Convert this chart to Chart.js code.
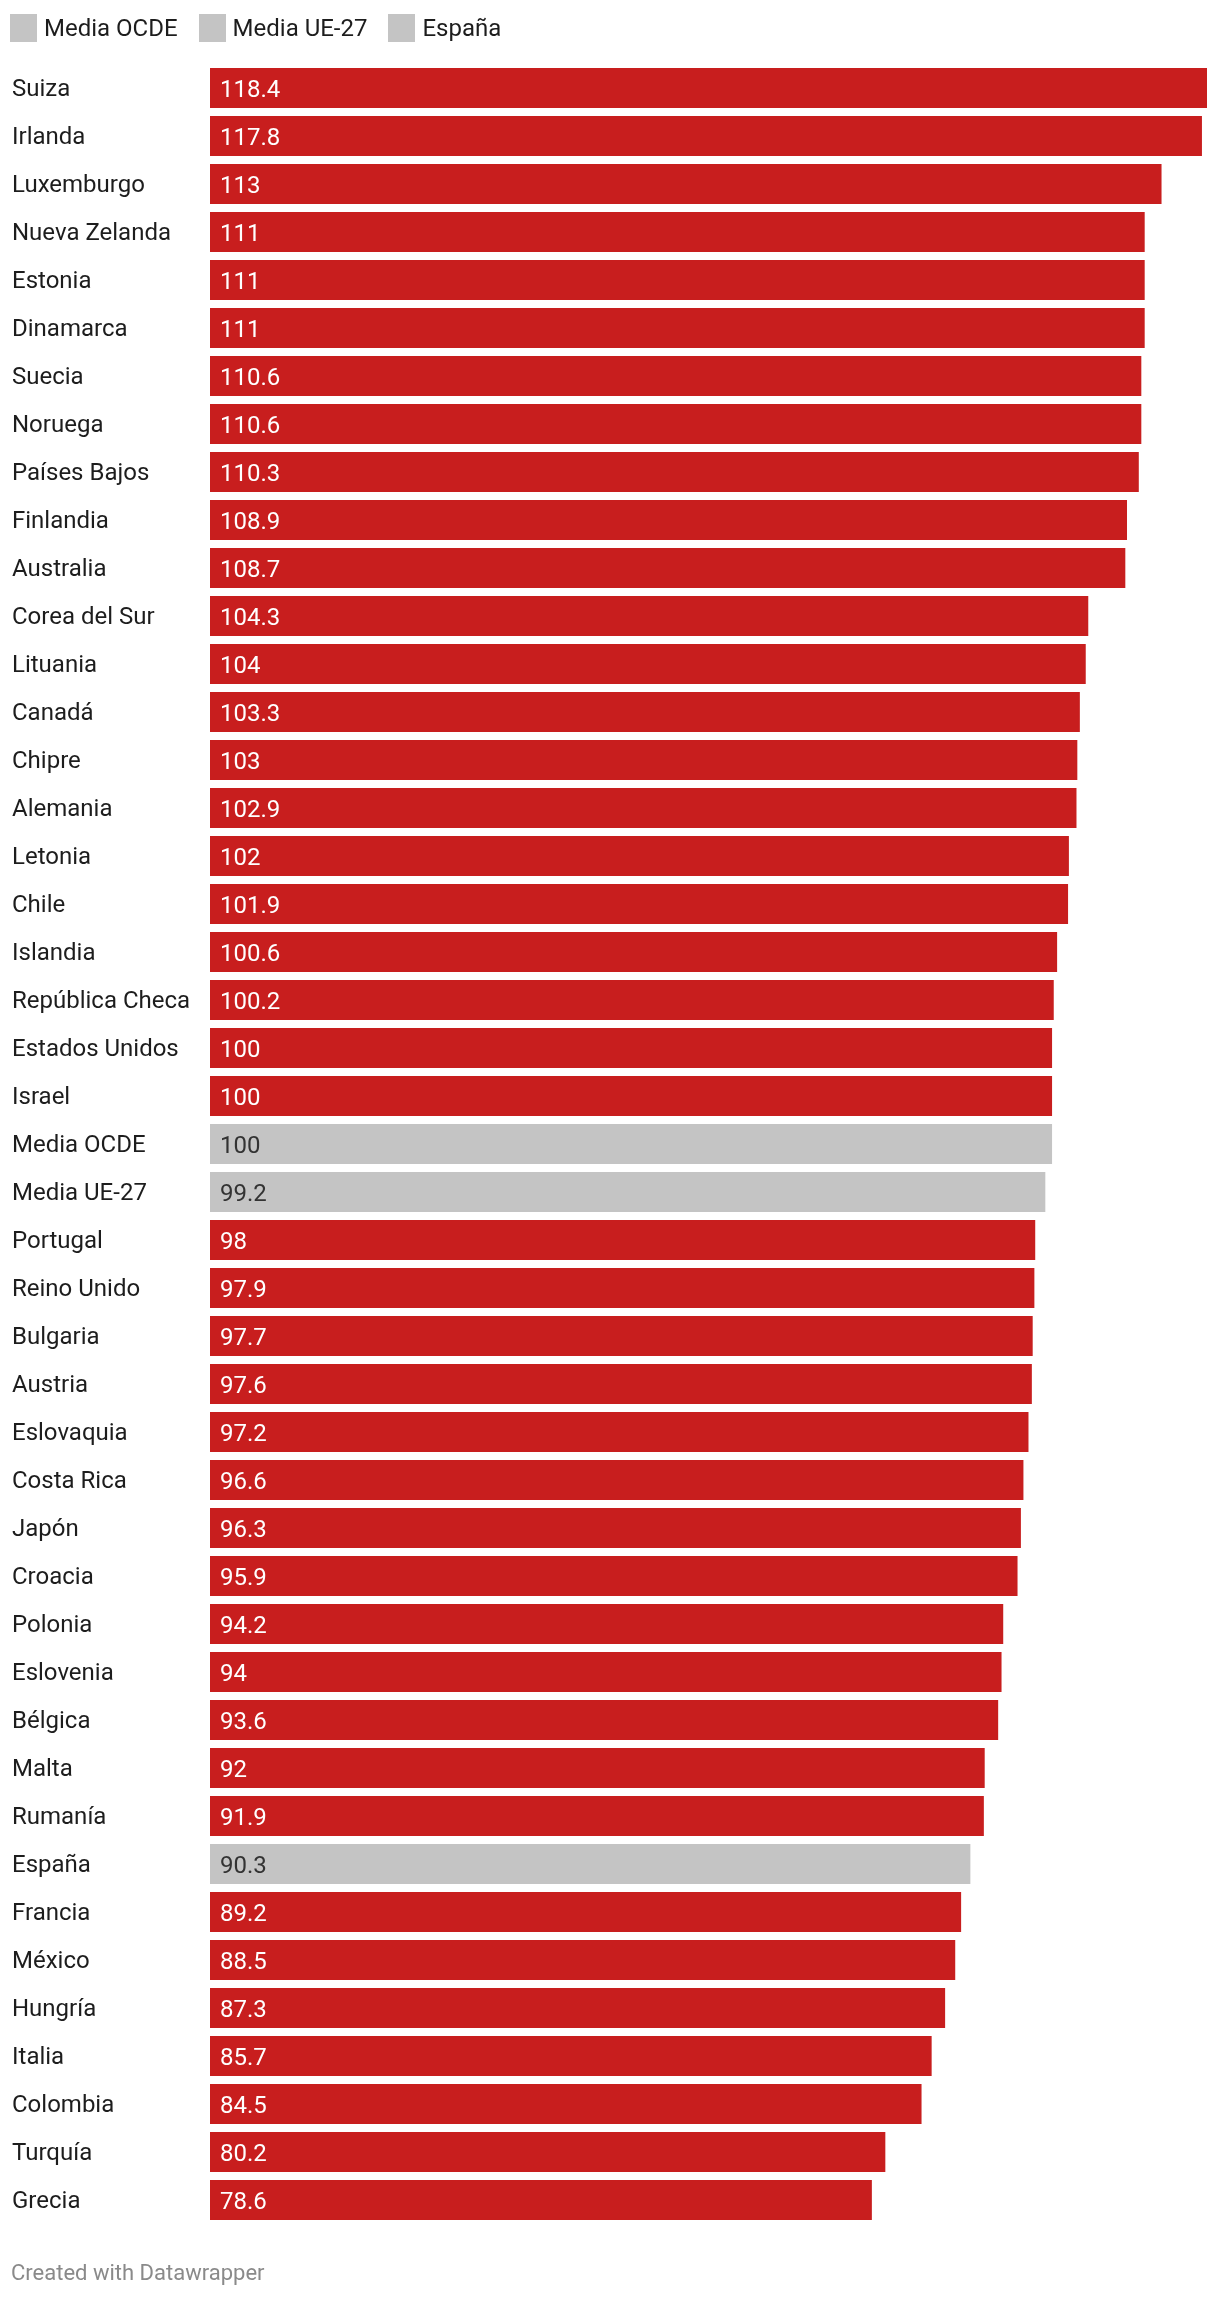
<!DOCTYPE html>
<html>
<head>
<meta charset="utf-8">
<script src="https://cdn.jsdelivr.net/npm/chart.js@4/dist/chart.umd.min.js"></script>
<style>
  html, body { margin: 0; padding: 0; background: #fff; }
  body { width: 1220px; height: 2298px; position: relative; overflow: hidden; font-family: Roboto, sans-serif; }
  #legend { position: absolute; left: 10px; top: 14px; display: flex; align-items: center; }
  .item { display: flex; align-items: center; margin-right: 21px; }
  .sw { width: 27px; height: 28px; background: #c4c4c4; margin-right: 7px; }
  .lt { font-size: 24px; color: #1d1d1d; line-height: 28px; }
  #footer { position: absolute; left: 11px; top: 2259px; font-size: 22px; line-height: 28px; color: #8a8a8a; }
  #wrap { position: absolute; left: 0; top: 0; width: 1220px; height: 2298px; }
</style>
</head>
<body>
<div id="wrap"><canvas id="c" width="1220" height="2298"></canvas></div>
<div id="legend"></div>
<div id="footer">Created with Datawrapper</div>
<script>
const categories = ["Suiza","Irlanda","Luxemburgo","Nueva Zelanda","Estonia","Dinamarca","Suecia","Noruega","Países Bajos","Finlandia","Australia","Corea del Sur","Lituania","Canadá","Chipre","Alemania","Letonia","Chile","Islandia","República Checa","Estados Unidos","Israel","Media OCDE","Media UE-27","Portugal","Reino Unido","Bulgaria","Austria","Eslovaquia","Costa Rica","Japón","Croacia","Polonia","Eslovenia","Bélgica","Malta","Rumanía","España","Francia","México","Hungría","Italia","Colombia","Turquía","Grecia"];
const values = [118.4,117.8,113,111,111,111,110.6,110.6,110.3,108.9,108.7,104.3,104,103.3,103,102.9,102,101.9,100.6,100.2,100,100,100,99.2,98,97.9,97.7,97.6,97.2,96.6,96.3,95.9,94.2,94,93.6,92,91.9,90.3,89.2,88.5,87.3,85.7,84.5,80.2,78.6];
const highlighted = ["Media OCDE","Media UE-27","España"];
const legendLabels = ["Media OCDE","Media UE-27","España"];

const RED = "#c81e1e", GRAY = "#c4c4c4";
const colors = categories.map(c => highlighted.includes(c) ? GRAY : RED);

const legend = document.getElementById('legend');
legendLabels.forEach(l => {
  const it = document.createElement('div'); it.className = 'item';
  it.innerHTML = '<div class="sw"></div><div class="lt"></div>';
  it.querySelector('.lt').textContent = l;
  legend.appendChild(it);
});

const valueLabels = {
  id: 'valueLabels',
  afterDatasetsDraw(chart) {
    const ctx = chart.ctx;
    const meta = chart.getDatasetMeta(0);
    ctx.save();
    ctx.font = '24px Roboto';
    ctx.textBaseline = 'middle';
    ctx.textAlign = 'left';
    meta.data.forEach((bar, i) => {
      ctx.fillStyle = highlighted.includes(categories[i]) ? '#333333' : '#ffffff';
      ctx.fillText(String(values[i]), bar.base + 10, bar.y + 2.5);
    });
    ctx.restore();
  }
};

new Chart(document.getElementById('c'), {
  type: 'bar',
  data: {
    labels: categories,
    datasets: [{
      data: values,
      backgroundColor: colors,
      borderWidth: 0,
      categoryPercentage: 1,
      barPercentage: 40/48
    }]
  },
  options: {
    indexAxis: 'y',
    responsive: false,
    animation: false,
    layout: { padding: { top: 64, bottom: 74, left: 12, right: 13 } },
    plugins: { legend: { display: false }, tooltip: { enabled: false } },
    scales: {
      x: { display: false, min: 0, max: 118.4 },
      y: {
        grid: { display: false },
        border: { display: false },
        ticks: { crossAlign: 'far', padding: 0, labelOffset: 2, color: '#1d1d1d', font: { family: 'Roboto', size: 24 } },
        afterFit(scale) { scale.width = 198; }
      }
    }
  },
  plugins: [valueLabels]
});
</script>
</body>
</html>
